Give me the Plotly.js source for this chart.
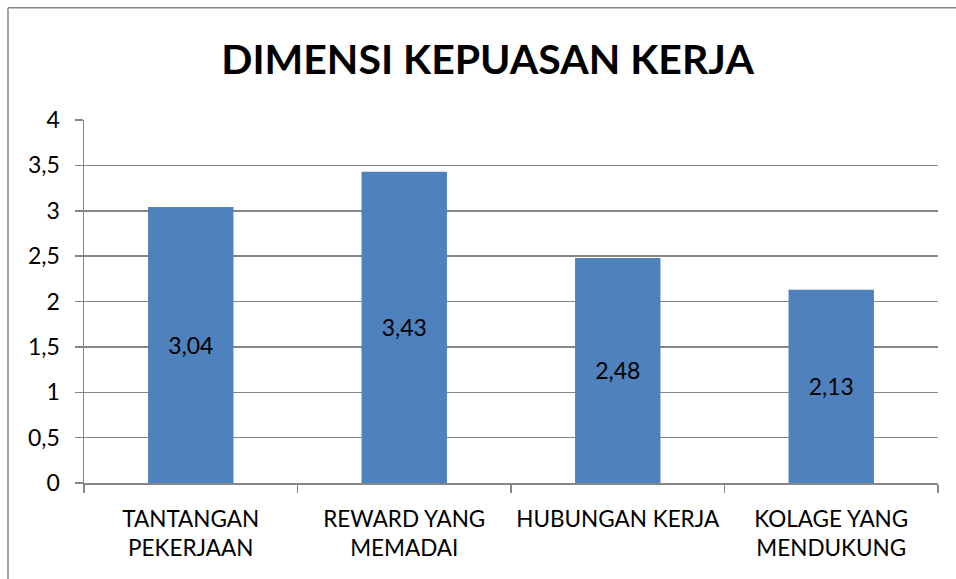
<!DOCTYPE html>
<html>
<head>
<meta charset="utf-8">
<script src="https://cdn.plot.ly/plotly-3.0.1.min.js"></script>
<style>
html, body { margin: 0; padding: 0; background: #ffffff; }
#chart { width: 956px; height: 579px; }
</style>
</head>
<body>
<div id="chart"></div>
<script>
const categories = ["TANTANGAN<br>PEKERJAAN", "REWARD YANG<br>MEMADAI", "HUBUNGAN KERJA", "KOLAGE YANG<br>MENDUKUNG"];
const values = [3.04, 3.43, 2.48, 2.13];
const yTickValues = [0, 0.5, 1, 1.5, 2, 2.5, 3, 3.5, 4];

const fontFamily = "Lato, 'Liberation Sans', sans-serif";
const gray = "#868686";

const plotLeft = 84, plotRight = 938, plotTop = 119.5, plotBottom = 483.5;
const W = 956, H = 579;
const pw = plotRight - plotLeft, ph = plotBottom - plotTop;

const trace = {
  type: "bar",
  x: categories,
  y: values,
  marker: { color: "#4F81BD" },
  width: 0.4,
  texttemplate: "%{y:.2f}",
  textposition: "inside",
  insidetextanchor: "middle",
  textfont: { family: fontFamily, size: 23, color: "#000000" },
  hoverinfo: "none"
};

const layout = {
  width: W,
  height: H,
  separators: ",.",
  paper_bgcolor: "#ffffff",
  plot_bgcolor: "#ffffff",
  showlegend: false,
  margin: { l: plotLeft, r: W - plotRight, t: plotTop, b: H - plotBottom, pad: 0 },
  title: {
    text: "<b>DIMENSI KEPUASAN KERJA</b>",
    font: { family: fontFamily, size: 41, color: "#000000" },
    x: 0.51, xanchor: "center",
    y: 1 - 60 / H, yanchor: "middle"
  },
  xaxis: {
    type: "category",
    showline: true, linecolor: gray, linewidth: 1.5,
    ticks: "outside", tickson: "boundaries", ticklen: 8, tickcolor: gray, tickwidth: 1.5,
    showgrid: false,
    ticklabelstandoff: 15,
    tickfont: { family: fontFamily, size: 22.5, color: "#000000" },
    fixedrange: true
  },
  yaxis: {
    range: [0, 4],
    tickvals: yTickValues,
    tickformat: ".1~f",
    showline: true, linecolor: gray, linewidth: 1.5,
    ticks: "outside", ticklen: 8, tickcolor: gray, tickwidth: 1.5,
    showgrid: true, gridcolor: gray, gridwidth: 1.5,
    zeroline: false,
    ticklabelstandoff: 10,
    tickfont: { family: fontFamily, size: 23, color: "#000000" },
    fixedrange: true
  },
  shapes: [
    {
      type: "line", xref: "paper", yref: "paper",
      x0: (8 - plotLeft) / pw, x1: (8 - plotLeft) / pw,
      y0: (plotBottom - 7) / ph, y1: (plotBottom - H - 2) / ph,
      line: { color: gray, width: 1.5 }
    },
    {
      type: "line", xref: "paper", yref: "paper",
      x0: (8 - plotLeft) / pw, x1: (W + 2 - plotLeft) / pw,
      y0: (plotBottom - 7) / ph, y1: (plotBottom - 7) / ph,
      line: { color: gray, width: 1.5 }
    }
  ]
};

Plotly.newPlot("chart", [trace], layout, { displayModeBar: false, staticPlot: true });
</script>
</body>
</html>
